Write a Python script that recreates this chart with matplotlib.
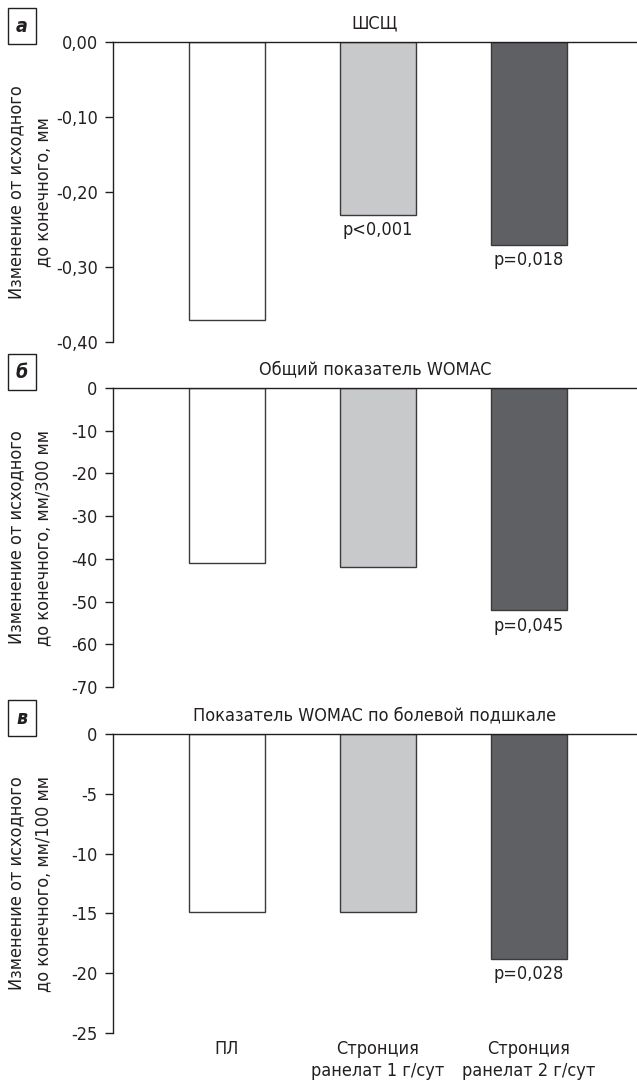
import matplotlib
matplotlib.use("Agg")
import matplotlib.pyplot as plt

plt.rcParams['font.family'] = ['DejaVu Sans']
plt.rcParams['font.stretch'] = 'condensed'

groups = ["ПЛ", "Стронция\nранелат 1 г/сут", "Стронция\nранелат 2 г/сут"]
bar_colors = ["#ffffff", "#c8c9cb", "#5f6063"]

jsw_values = [-0.37, -0.23, -0.27]
womac_total_values = [-41, -42, -52]
womac_pain_values = [-14.9, -14.9, -18.8]

jsw_p = [None, "p<0,001", "p=0,018"]
womac_total_p = [None, None, "p=0,045"]
womac_pain_p = [None, None, "p=0,028"]

jsw_ticks = [0.0, -0.1, -0.2, -0.3, -0.4]
jsw_ticklabels = ["0,00", "-0,10", "-0,20", "-0,30", "-0,40"]
womac_total_ticks = [0, -10, -20, -30, -40, -50, -60, -70]
womac_pain_ticks = [0, -5, -10, -15, -20, -25]

panels = [
    dict(letter="а", title="ШСЩ", values=jsw_values, pvals=jsw_p,
         ticks=jsw_ticks, ticklabels=jsw_ticklabels,
         ylabel="Изменение от исходного\nдо конечного, мм",
         top=42, bottom=342),
    dict(letter="б", title="Общий показатель WOMAC", values=womac_total_values,
         pvals=womac_total_p, ticks=womac_total_ticks,
         ticklabels=[str(t) for t in womac_total_ticks],
         ylabel="Изменение от исходного\nдо конечного, мм/300 мм",
         top=388, bottom=687),
    dict(letter="в", title="Показатель WOMAC по болевой подшкале",
         values=womac_pain_values, pvals=womac_pain_p, ticks=womac_pain_ticks,
         ticklabels=[str(t) for t in womac_pain_ticks],
         ylabel="Изменение от исходного\nдо конечного, мм/100 мм",
         top=734, bottom=1033),
]

W, H = 637, 1082
fig = plt.figure(figsize=(W / 100, H / 100), dpi=100)
text_color = "#231f20"
fs = 13

for i, p in enumerate(panels):
    left = 113 / W
    ax = fig.add_axes([left, 1 - p["bottom"] / H, 1 - left, (p["bottom"] - p["top"]) / H])
    x = list(range(len(groups)))
    ax.bar(x, p["values"], width=0.5, color=bar_colors, edgecolor="#3a3a3a",
           linewidth=1.0, zorder=2)
    ax.set_xlim(-0.755, 2.715)
    ax.set_ylim(p["ticks"][-1], 0)
    ax.set_yticks(p["ticks"])
    ax.set_yticklabels(p["ticklabels"])
    ax.tick_params(axis="y", direction="out", length=6, width=1,
                   labelsize=fs, colors=text_color, pad=5)
    ax.set_xticks([])
    for s in ("right", "bottom"):
        ax.spines[s].set_visible(False)
    for s in ("left", "top"):
        ax.spines[s].set_linewidth(1.0)
        ax.spines[s].set_color("#231f20")

    span = p["ticks"][0] - p["ticks"][-1]
    for xi, v, pv in zip(x, p["values"], p["pvals"]):
        if pv:
            ax.text(xi, v - span * 0.022, pv, ha="center", va="top",
                    fontsize=fs, color=text_color)

    ax.set_title(p["title"], fontsize=fs, color=text_color, pad=10)

    ycenter = 1 - (p["top"] + p["bottom"]) / 2 / H
    fig.text(30 / W, ycenter, p["ylabel"], rotation=90, ha="center", va="center",
             multialignment="center", fontsize=fs, color=text_color,
             linespacing=1.6)

    fig.text(22 / W, 1 - (p["top"] - 16) / H, p["letter"], ha="center", va="center",
             fontsize=14, fontweight="bold", fontstyle="italic", color=text_color,
             bbox=dict(boxstyle="square,pad=0.42", fc="white", ec="#231f20", lw=1.0))

    if i == 2:
        for xi, g in zip(x, groups):
            ax.text(xi, p["ticks"][-1] - span * 0.025, g, ha="center", va="top",
                    fontsize=fs, color=text_color, linespacing=1.25)

fig.savefig("out.png", dpi=100)
